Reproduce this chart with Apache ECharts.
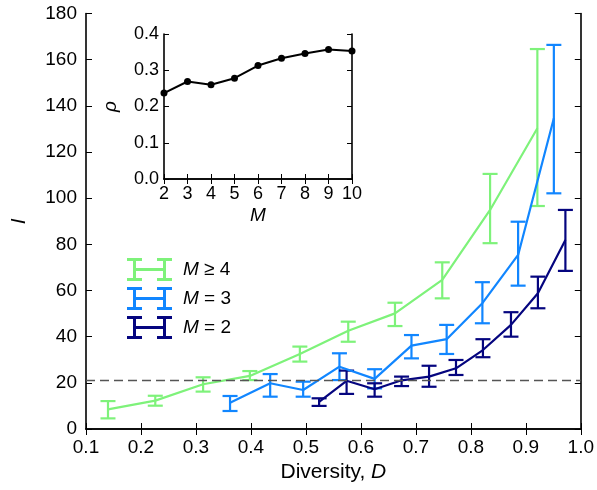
<!DOCTYPE html>
<html><head><meta charset="utf-8">
<script src="https://cdn.jsdelivr.net/npm/echarts@6/dist/echarts.min.js"></script>
<style>html,body{margin:0;padding:0;background:#fff}#c{width:597px;height:490px}</style>
</head><body><div id="c"></div>
<script>
// ---- data ----
const seriesNames = ['M ≥ 4', 'M = 3', 'M = 2'];
const greenD  = [0.140,0.226,0.313,0.398,0.489,0.577,0.662,0.748,0.835,0.921];
const greenI  = [8.5,12.3,19.4,23.0,32.5,42.6,50.1,64.6,94.9,130.3];
const greenLo = [4.6,10.1,16.2,21.2,29.2,37.8,44.6,56.6,80.5,96.6];
const greenHi = [12.1,14.4,22.4,25.1,35.7,46.5,54.7,72.2,110.5,164.6];
const blueD  = [0.362,0.435,0.495,0.561,0.625,0.692,0.756,0.821,0.886,0.951];
const blueI  = [11.4,19.8,16.9,27.0,21.7,36.1,38.9,54.5,75.4,134.6];
const blueLo = [7.8,14.0,14.0,21.2,17.6,30.6,32.5,45.8,62.1,102.1];
const blueHi = [14.3,23.8,20.5,32.8,25.9,40.7,45.1,63.6,89.8,166.4];
const navyD  = [0.524,0.574,0.625,0.674,0.724,0.773,0.822,0.873,0.922,0.972];
const navyI  = [11.8,20.9,17.2,21.1,22.7,26.3,34.2,45.1,58.8,81.9];
const navyLo = [10.0,15.2,14.0,18.6,18.3,23.4,31.1,40.0,52.3,68.5];
const navyHi = [13.3,25.3,19.8,22.7,27.4,29.9,38.9,50.6,66.0,94.9];
const threshold = 21.2;
const insetM = [2,3,4,5,6,7,8,9,10];
const insetRho = [0.237,0.269,0.260,0.278,0.313,0.333,0.346,0.357,0.353];

// ---- styling ----
const colors = ['#7ef27a', '#1186ff', '#05057f'];
const FONT = 'Liberation Sans, Arial, Helvetica, sans-serif';
const legendIcon = 'path://M0,0H15V3H0Z M0,20H15V23H0Z M6,0H9V23H6Z M30,0H45V3H30Z M30,20H45V23H30Z M36,0H39V23H36Z M7,10H38V13H7Z';

function errSeries(name, D, lo, hi, color) {
  return {
    type: 'custom', name: name, xAxisIndex: 0, yAxisIndex: 0, z: 3,
    itemStyle: {color: color},
    data: D.map((d, i) => [d, lo[i], hi[i]]),
    encode: {x: 0, y: [1, 2]},
    renderItem: function (params, api) {
      const x = api.value(0);
      const a = api.coord([x, api.value(1)]);
      const b = api.coord([x, api.value(2)]);
      const hw = 7.5;
      const st = {stroke: color, lineWidth: 2.2};
      return {type: 'group', children: [
        {type: 'line', shape: {x1: a[0], y1: a[1], x2: b[0], y2: b[1]}, style: st},
        {type: 'line', shape: {x1: a[0] - hw, y1: a[1], x2: a[0] + hw, y2: a[1]}, style: st},
        {type: 'line', shape: {x1: b[0] - hw, y1: b[1], x2: b[0] + hw, y2: b[1]}, style: st}
      ]};
    }
  };
}
function lineSeries(name, D, I, color, extra) {
  return Object.assign({
    type: 'line', name: name, xAxisIndex: 0, yAxisIndex: 0, z: 3,
    data: D.map((d, i) => [d, I[i]]),
    showSymbol: false, symbol: 'none',
    lineStyle: {color: color, width: 2.2}, itemStyle: {color: color},
    animation: false
  }, extra || {});
}

const mainGrid = {left: 86, right: 16, top: 13.5, bottom: 61};
const insetGrid = {left: 164, right: 245, top: 34, bottom: 311};
const axisLineStyle = {lineStyle: {color: '#000', width: 1.6}};

const option = {
  animation: false,
  backgroundColor: '#fff',
  textStyle: {fontFamily: FONT},
  grid: [mainGrid, insetGrid],
  legend: {
    orient: 'vertical', left: 122, top: 253, itemGap: 6,
    itemWidth: 45, itemHeight: 23,
    data: seriesNames.map(n => ({name: n, icon: legendIcon})),
    formatter: n => '{i|M}' + n.slice(1),
    textStyle: {fontSize: 19, color: '#000', fontFamily: FONT, padding: [0, 0, 0, 6],
      rich: {i: {fontStyle: 'italic', fontSize: 19, fontFamily: FONT}}}
  },
  xAxis: [
    {gridIndex: 0, type: 'value', min: 0.1, max: 1.0, interval: 0.1, position: 'bottom',
     axisLine: axisLineStyle, axisTick: {inside: true, length: 6, lineStyle: {color: '#000', width: 1}},
     splitLine: {show: false},
     axisLabel: {fontSize: 19, color: '#000', margin: 9, fontFamily: FONT, formatter: v => v.toFixed(1)},
     name: '{n|Diversity, }{i|D}', nameLocation: 'middle', nameGap: 28,
     nameTextStyle: {rich: {n: {fontSize: 21, color: '#000', fontFamily: FONT},
                            i: {fontSize: 21, color: '#000', fontStyle: 'italic', fontFamily: FONT}}}},
    {gridIndex: 0, type: 'value', min: 0.1, max: 1.0, interval: 0.1, position: 'top',
     axisLine: axisLineStyle, axisTick: {inside: true, length: 6, lineStyle: {color: '#000', width: 1}},
     splitLine: {show: false}, axisLabel: {show: false}},
    {gridIndex: 1, type: 'value', min: 2, max: 10, interval: 1, position: 'bottom',
     axisLine: axisLineStyle, axisTick: {inside: true, length: 5, lineStyle: {color: '#000', width: 1}},
     splitLine: {show: false},
     axisLabel: {fontSize: 18, color: '#000', margin: 6, fontFamily: FONT},
     name: 'M', nameLocation: 'middle', nameGap: 27,
     nameTextStyle: {fontSize: 19, color: '#000', fontStyle: 'italic', fontFamily: FONT}},
    {gridIndex: 1, type: 'value', min: 2, max: 10, interval: 1, position: 'top',
     axisLine: axisLineStyle, axisTick: {inside: true, length: 5, lineStyle: {color: '#000', width: 1}},
     splitLine: {show: false}, axisLabel: {show: false}}
  ],
  yAxis: [
    {gridIndex: 0, type: 'value', min: 0, max: 180, interval: 20, position: 'left',
     axisLine: axisLineStyle, axisTick: {inside: true, length: 6, lineStyle: {color: '#000', width: 1}},
     splitLine: {show: false},
     axisLabel: {fontSize: 19, color: '#000', margin: 9, fontFamily: FONT},
     name: 'I', nameLocation: 'middle', nameGap: 56, nameRotate: 90,
     nameTextStyle: {fontSize: 21, color: '#000', fontStyle: 'italic', fontFamily: FONT}},
    {gridIndex: 0, type: 'value', min: 0, max: 180, interval: 20, position: 'right',
     axisLine: axisLineStyle, axisTick: {inside: true, length: 6, lineStyle: {color: '#000', width: 1}},
     splitLine: {show: false}, axisLabel: {show: false}},
    {gridIndex: 1, type: 'value', min: 0, max: 0.4, interval: 0.1, position: 'left',
     axisLine: axisLineStyle, axisTick: {inside: true, length: 5, lineStyle: {color: '#000', width: 1}},
     splitLine: {show: false},
     axisLabel: {fontSize: 18, color: '#000', margin: 5, fontFamily: FONT, formatter: v => v.toFixed(1)},
     name: 'ρ', nameLocation: 'middle', nameGap: 44, nameRotate: 90,
     nameTextStyle: {fontSize: 19, color: '#000', fontStyle: 'italic', fontFamily: FONT}},
    {gridIndex: 1, type: 'value', min: 0, max: 0.4, interval: 0.1, position: 'right',
     axisLine: axisLineStyle, axisTick: {inside: true, length: 5, lineStyle: {color: '#000', width: 1}},
     splitLine: {show: false}, axisLabel: {show: false}}
  ],
  series: [
    lineSeries('M ≥ 4', greenD, greenI, colors[0], {
      markLine: {silent: true, symbol: 'none', label: {show: false},
        lineStyle: {color: '#555', type: [9, 5], width: 1.4},
        data: [{yAxis: threshold}]}
    }),
    errSeries('M ≥ 4', greenD, greenLo, greenHi, colors[0]),
    lineSeries('M = 3', blueD, blueI, colors[1]),
    errSeries('M = 3', blueD, blueLo, blueHi, colors[1]),
    lineSeries('M = 2', navyD, navyI, colors[2]),
    errSeries('M = 2', navyD, navyLo, navyHi, colors[2]),
    {type: 'line', name: 'rho', xAxisIndex: 2, yAxisIndex: 2,
     data: insetM.map((m, i) => [m, insetRho[i]]),
     symbol: 'circle', symbolSize: 7, showSymbol: true, clip: false,
     lineStyle: {color: '#000', width: 2}, itemStyle: {color: '#000'}}
  ]
};
const chart = echarts.init(document.getElementById('c'), null, {renderer: 'canvas'});
chart.setOption(option);
</script>
</body></html>
